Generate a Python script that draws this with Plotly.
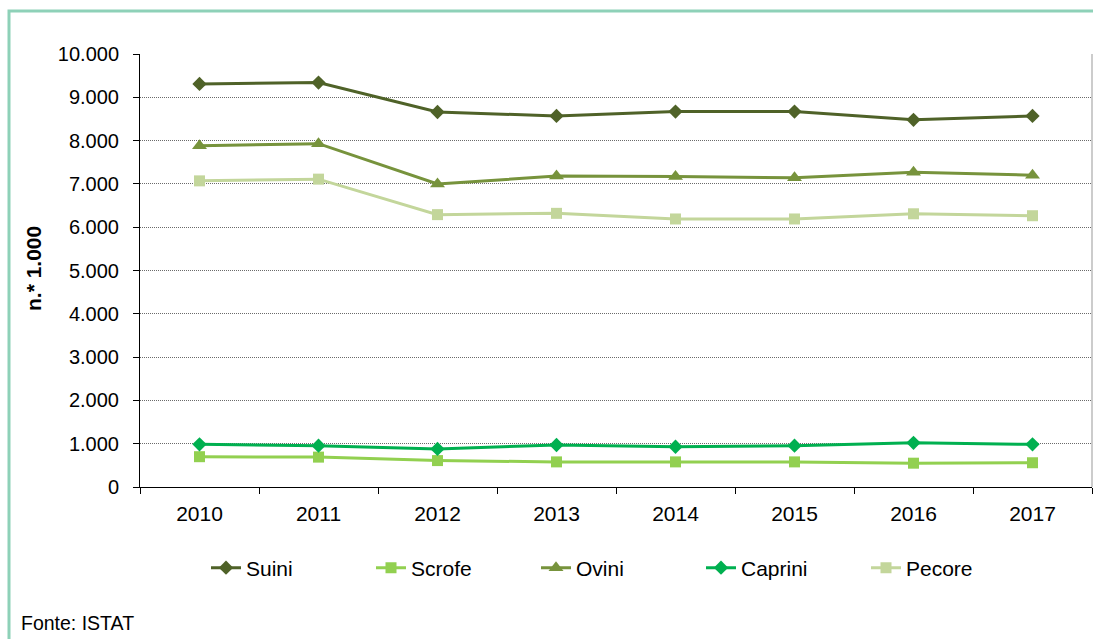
import plotly.graph_objects as go

years = ["2010", "2011", "2012", "2013", "2014", "2015", "2016", "2017"]
suini = [9310, 9340, 8660, 8570, 8670, 8670, 8480, 8570]
scrofe = [700, 690, 610, 580, 580, 580, 550, 560]
ovini = [7880, 7930, 7000, 7180, 7170, 7140, 7270, 7200]
caprini = [985, 955, 880, 970, 930, 955, 1020, 985]
pecore = [7070, 7110, 6290, 6320, 6190, 6190, 6310, 6265]

y_tickvals = [0, 1000, 2000, 3000, 4000, 5000, 6000, 7000, 8000, 9000, 10000]
y_ticktext = ["0", "1.000", "2.000", "3.000", "4.000", "5.000", "6.000",
              "7.000", "8.000", "9.000", "10.000"]

series = [
    ("Suini", suini, "#4f6228", "diamond", 11),
    ("Scrofe", scrofe, "#92d050", "square", 11),
    ("Ovini", ovini, "#77933c", "triangle-up", 13),
    ("Caprini", caprini, "#00b050", "diamond", 11),
    ("Pecore", pecore, "#c3d69b", "square", 11),
]

W, H = 1093, 639
L, R, T, B = 140, 1, 54, 152
pw, ph = W - L - R, H - T - B

def px_x(x):
    return (x - L) / pw

def px_y(y):
    return (H - B - y) / ph

fig = go.Figure()
for name, vals, col, sym, sz in series:
    fig.add_trace(go.Scatter(
        x=years, y=vals, name=name, mode="lines+markers",
        line=dict(color=col, width=3),
        marker=dict(symbol=sym, size=sz, color=col),
    ))

font_family = "Arial, Liberation Sans, sans-serif"

fig.update_layout(
    width=W, height=H,
    margin=dict(l=L, r=R, t=T, b=B, pad=0),
    paper_bgcolor="white", plot_bgcolor="white",
    font=dict(family=font_family, size=20, color="black"),
    showlegend=True,
    legend=dict(
        orientation="h", x=px_x(206), xanchor="left",
        y=px_y(568), yanchor="middle",
        font=dict(size=21), entrywidth=120, entrywidthmode="pixels",
        bgcolor="rgba(0,0,0,0)",
    ),
    xaxis=dict(
        type="category", range=[-0.5, 7.5],
        showline=True, linecolor="black", linewidth=1,
        ticks="outside", tickson="boundaries", ticklen=6, tickcolor="black",
        showgrid=False, zeroline=False, ticklabelstandoff=8,
        tickfont=dict(size=21),
    ),
    yaxis=dict(
        range=[0, 10000], tickvals=y_tickvals, ticktext=y_ticktext,
        showline=True, linecolor="black", linewidth=1,
        ticks="outside", ticklen=6, tickcolor="black",
        showgrid=True, gridcolor="#6a6a6a", gridwidth=1, griddash="1px,1px",
        zeroline=False, ticklabelstandoff=10,
        tickfont=dict(size=20),
    ),
    annotations=[
        dict(text="<b>n.* 1.000</b>", x=px_x(33), y=px_y(269), xref="paper", yref="paper",
             textangle=-90, showarrow=False, font=dict(size=21),
             xanchor="center", yanchor="middle"),
        dict(text="Fonte: ISTAT", x=px_x(19), y=px_y(623), xref="paper", yref="paper",
             showarrow=False, font=dict(size=19.5), xanchor="left", yanchor="middle"),
    ],
    shapes=[
        dict(type="rect", xref="paper", yref="paper",
             x0=px_x(9), x1=px_x(1130), y0=px_y(680), y1=px_y(11),
             line=dict(color="#8ed1b8", width=3), layer="below"),
        dict(type="line", xref="paper", yref="paper", x0=1, x1=1, y0=0, y1=1,
             line=dict(color="#999999", width=1)),
    ],
)

fig.write_html("out.html", config={"displayModeBar": False},
               post_script="document.body.style.margin='0px';")
